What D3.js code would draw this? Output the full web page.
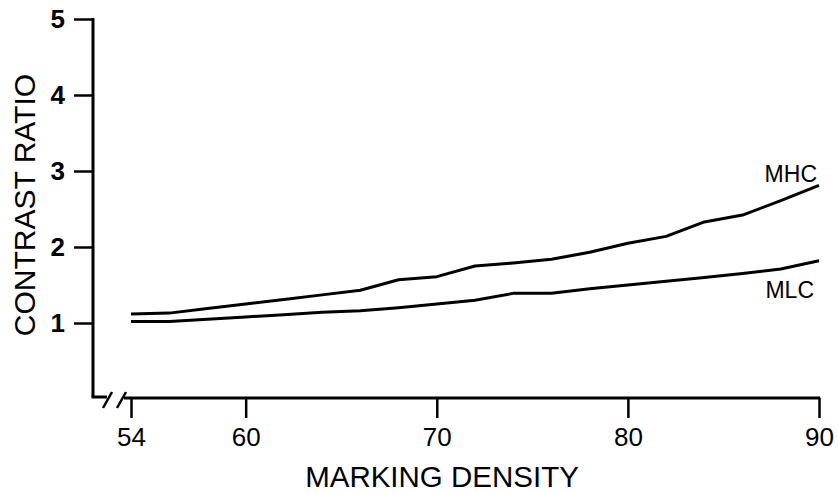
<!DOCTYPE html>
<html>
<head>
<meta charset="utf-8">
<script src="https://cdn.jsdelivr.net/npm/d3@7"></script>
<style>
  body { margin: 0; background: #fff; }
  text { font-family: "Liberation Sans", Arial, sans-serif; fill: #000; }
</style>
</head>
<body>
<svg id="chart"></svg>
<script>
// marking density (x) and contrast ratio for the two series
const density = [54, 56, 58, 60, 62, 64, 66, 68, 70, 72, 74, 76, 78, 80, 82, 84, 86, 88, 90];
const mhc = [1.12, 1.13, 1.19, 1.25, 1.31, 1.37, 1.43, 1.57, 1.61, 1.75, 1.79, 1.84, 1.93, 2.05, 2.14, 2.33, 2.42, 2.61, 2.81];
const mlc = [1.02, 1.02, 1.05, 1.08, 1.11, 1.14, 1.16, 1.20, 1.25, 1.30, 1.39, 1.39, 1.45, 1.50, 1.55, 1.60, 1.65, 1.71, 1.82];
const xTicks = [54, 60, 70, 80, 90];
const yTicks = [1, 2, 3, 4, 5];

const svgWidth = 838;
const svgHeight = 494;

const svg = d3.select("#chart")
  .attr("width", svgWidth)
  .attr("height", svgHeight);

const x = d3.scaleLinear().domain([54, 90]).range([131, 819]);
const y = d3.scaleLinear().domain([0, 5]).range([399, 19]);
const axisY = 93;
const axisX = 398;

// y axis
const gy = svg.append("g")
  .attr("transform", `translate(${axisY},0)`)
  .call(d3.axisLeft(y).tickValues(yTicks).tickSize(19).tickSizeOuter(0).tickPadding(9).tickFormat(d3.format("d")));
gy.select(".domain").remove();
gy.selectAll(".tick line").attr("stroke", "#000").attr("stroke-width", 2.5);
gy.selectAll(".tick text")
  .attr("font-size", "26px")
  .attr("font-weight", "bold")
  .attr("font-family", "Liberation Sans, Arial, sans-serif");

svg.append("line")
  .attr("x1", axisY).attr("x2", axisY)
  .attr("y1", y(5) - 1).attr("y2", axisX - 1)
  .attr("stroke", "#000").attr("stroke-width", 3);
svg.append("line")
  .attr("x1", axisY - 1.5).attr("x2", 107)
  .attr("y1", axisX - 1).attr("y2", axisX - 1)
  .attr("stroke", "#000").attr("stroke-width", 3);

// axis break marks
[[103, 112], [117, 126]].forEach(([a, b]) => {
  svg.append("line")
    .attr("x1", a).attr("y1", 408)
    .attr("x2", b).attr("y2", 392)
    .attr("stroke", "#000").attr("stroke-width", 2.5);
});

// x axis
const gx = svg.append("g")
  .attr("transform", `translate(0,${axisX})`)
  .call(d3.axisBottom(x).tickValues(xTicks).tickSize(20).tickSizeOuter(0).tickPadding(10));
gx.select(".domain").remove();
gx.selectAll(".tick line").attr("stroke", "#000").attr("stroke-width", 2.5);
gx.selectAll(".tick text")
  .attr("font-size", "26px")
  .attr("font-family", "Liberation Sans, Arial, sans-serif");

svg.append("line")
  .attr("x1", 124).attr("x2", x(90) + 1.2)
  .attr("y1", axisX).attr("y2", axisX)
  .attr("stroke", "#000").attr("stroke-width", 3);

// axis titles
svg.append("text")
  .attr("x", 442)
  .attr("y", 487)
  .attr("text-anchor", "middle")
  .attr("font-size", "29.5px")
  .text("MARKING DENSITY");

svg.append("text")
  .attr("transform", "translate(35,205) rotate(-90)")
  .attr("text-anchor", "middle")
  .attr("font-size", "30px")
  .text("CONTRAST RATIO");

// series lines
const line = d3.line()
  .x(d => x(d[0]))
  .y(d => y(d[1]));

[mhc, mlc].forEach(series => {
  svg.append("path")
    .datum(density.map((d, i) => [d, series[i]]))
    .attr("fill", "none")
    .attr("stroke", "#000")
    .attr("stroke-width", 3)
    .attr("stroke-linejoin", "round")
    .attr("d", line);
});

// series labels
svg.append("text")
  .attr("x", 817).attr("y", 182)
  .attr("text-anchor", "end")
  .attr("font-size", "23px")
  .text("MHC");

svg.append("text")
  .attr("x", 814).attr("y", 298)
  .attr("text-anchor", "end")
  .attr("font-size", "23px")
  .text("MLC");
</script>
</body>
</html>
